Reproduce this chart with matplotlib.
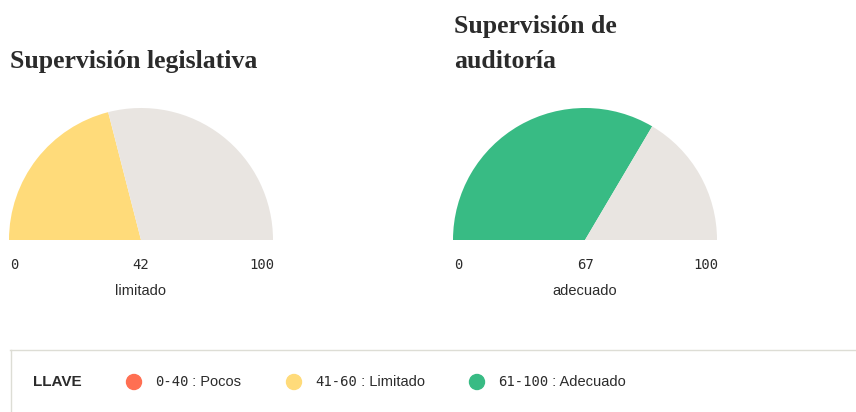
import matplotlib
matplotlib.use("Agg")
import matplotlib.pyplot as plt
from matplotlib.patches import Ellipse
from matplotlib.lines import Line2D

W, H = 856, 412

titles = [["Supervisión legislativa"], ["Supervisión de", "auditoría"]]
values = [42, 67]
labels = ["limitado", "adecuado"]
tick_min, tick_max = 0, 100
legend_ranges = ["0-40", "41-60", "61-100"]
legend_names = [" : Pocos", " : Limitado", " : Adecuado"]
legend_colors = ["#FF6F52", "#FFDB7A", "#38BB84"]
value_colors = ["#FFDB7A", "#38BB84"]
track_color = "#E9E5E1"

fig = plt.figure(figsize=(W / 100, H / 100), dpi=100)
fig.patch.set_facecolor("white")

def fx(x):
    return x / W

def fy(y):
    return 1 - y / H

text_col = "#2b2b2b"
centers = [141, 585]
radius = 132
cy = 240
title_fs = 18.5

for i, (cx, v) in enumerate(zip(centers, values)):
    ax = fig.add_axes([fx(cx - radius), fy(cy + radius), 2 * radius / W, 2 * radius / H])
    ax.pie([v, tick_max - v, tick_max], colors=[value_colors[i], track_color, "none"],
           startangle=180, counterclock=False, radius=1,
           wedgeprops=dict(linewidth=0))
    ax.set_xlim(-1, 1)
    ax.set_ylim(-1, 1)
    ax.set_aspect("equal")
    ax.axis("off")

    # title
    tl = titles[i]
    ys = [68] if len(tl) == 1 else [33, 68]
    for line, yy in zip(tl, ys):
        fig.text(fx(cx - radius + 1), fy(yy), line, family="Liberation Serif",
                 weight="bold", fontsize=title_fs, color=text_col, va="baseline")

    # ticks
    fig.text(fx(cx - radius + 1), fy(265), str(tick_min), family="DejaVu Sans Mono",
             fontsize=10, color=text_col, ha="left", va="center")
    fig.text(fx(cx), fy(265), str(v), family="DejaVu Sans Mono",
             fontsize=10, color=text_col, ha="center", va="center")
    fig.text(fx(cx + radius + 1), fy(265), str(tick_max), family="DejaVu Sans Mono",
             fontsize=10, color=text_col, ha="right", va="center")
    fig.text(fx(cx), fy(291), labels[i], family="Liberation Sans",
             fontsize=10.5, color=text_col, ha="center", va="center")

# legend box
border = "#DDDDD5"
fig.add_artist(Line2D([fx(10), fx(W)], [fy(349.5), fy(349.5)], color=border, lw=1))
fig.add_artist(Line2D([fx(10.5), fx(10.5)], [fy(349.5), fy(H)], color=border, lw=1))

fig.text(fx(33), fy(382), "LLAVE", family="Liberation Sans", weight="bold",
         fontsize=11, color=text_col, va="center")

dot_x = [134, 294, 477]
for x, rng, name, c in zip(dot_x, legend_ranges, legend_names, legend_colors):
    fig.add_artist(Ellipse((fx(x), fy(382)), width=15 / W, height=15 / H, color=c,
                           transform=fig.transFigure))
    t = fig.text(fx(x + 21), fy(382), rng, family="DejaVu Sans Mono",
                 fontsize=10, color=text_col, va="center")
    fig.canvas.draw()
    bb = t.get_window_extent()
    fig.text(bb.x1 / W, fy(382), name, family="Liberation Sans",
             fontsize=10.5, color=text_col, va="center")

fig.savefig("out.png", dpi=100, facecolor="white")
